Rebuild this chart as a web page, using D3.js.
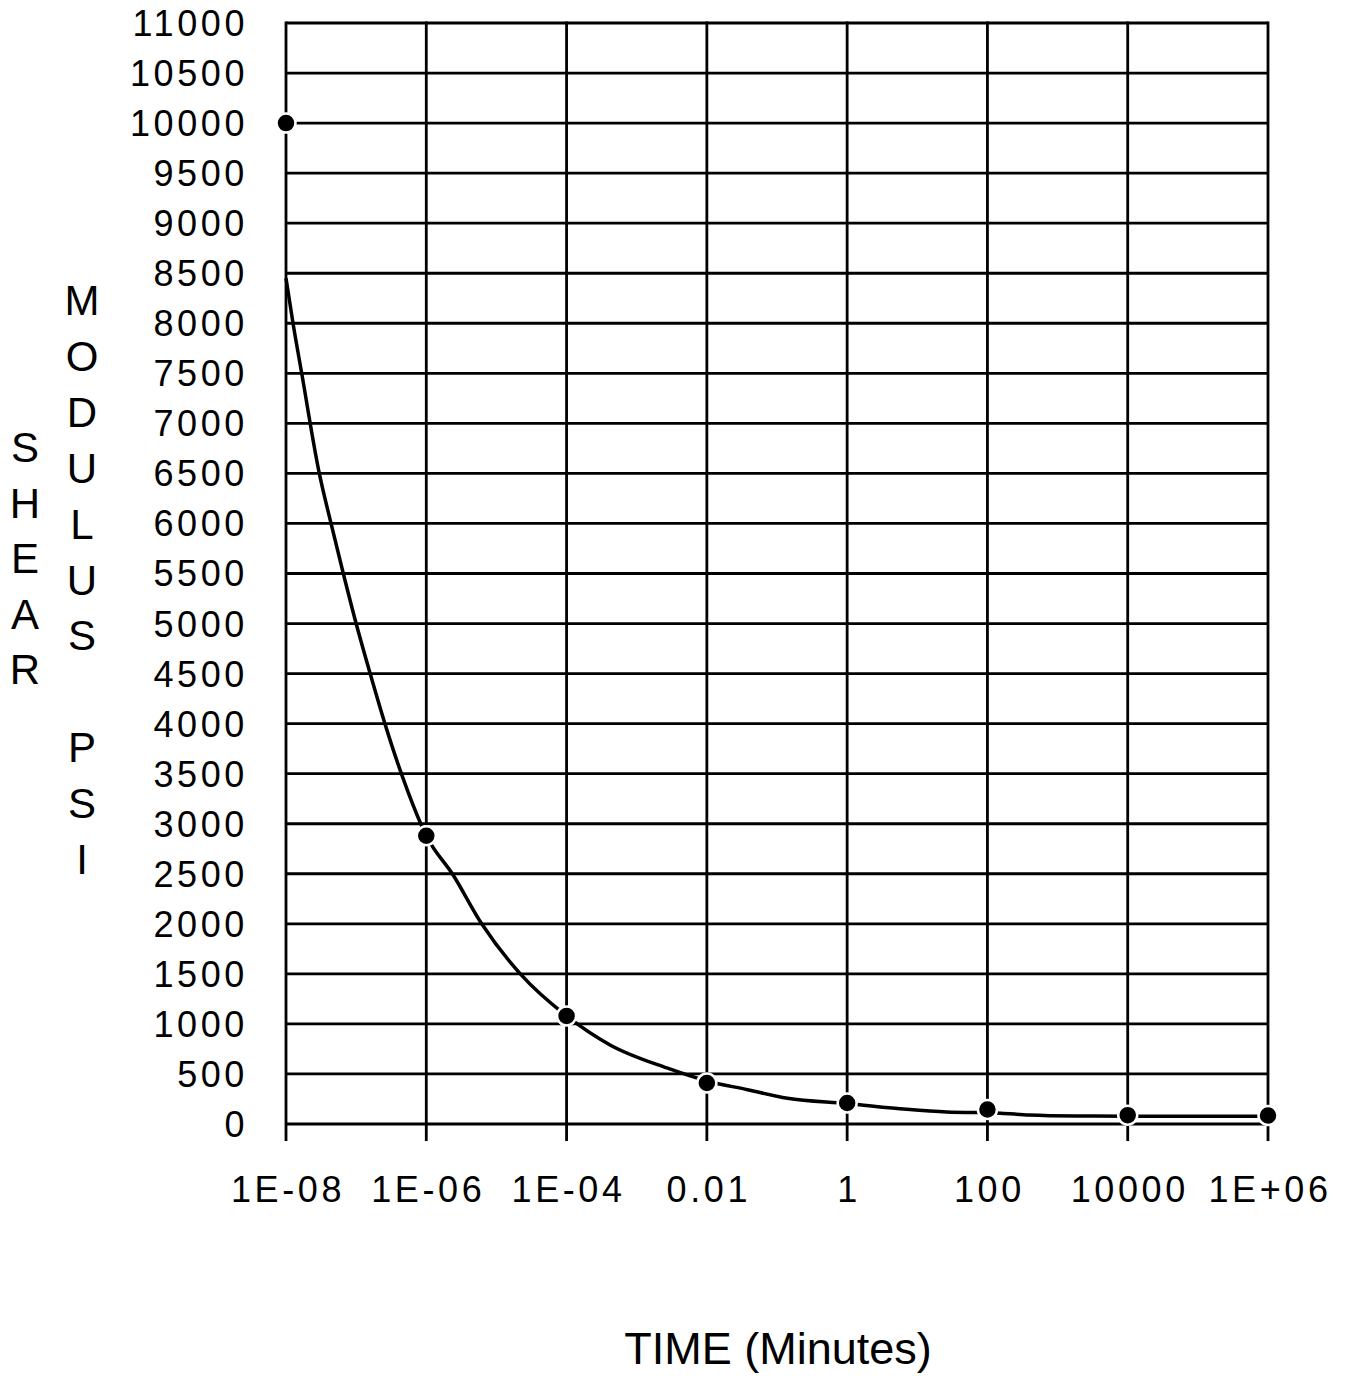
<!DOCTYPE html>
<html><head><meta charset="utf-8">
<script src="https://cdn.jsdelivr.net/npm/d3@7"></script>
<style>body{margin:0;background:#fff}svg{display:block}text{font-family:"Liberation Sans",Arial,sans-serif;fill:#000}</style>
</head><body>
<svg id="c" width="1348" height="1376"></svg>
<script>
// tick values / labels
const xTicks = [1e-8, 1e-6, 1e-4, 0.01, 1, 100, 10000, 1e6];
const xTickLabels = ["1E-08","1E-06","1E-04","0.01","1","100","10000","1E+06"];
const yTicks = [0,500,1000,1500,2000,2500,3000,3500,4000,4500,5000,5500,6000,6500,7000,7500,8000,8500,9000,9500,10000,10500,11000];
// measured data points
const pointTime = [1e-8, 1e-6, 1e-4, 0.01, 1, 100, 10000, 1e6];
const pointModulus = [10000, 2880, 1080, 410, 210, 145, 88, 85];
// fitted curve
const curveTime = [1e-8,1.259e-8,1.675e-8,2.985e-8,4.385e-8,6.56e-8,1e-7,1.585e-7,2.57e-7,4.68e-7,1e-6,2.45e-6,6.17e-6,2.19e-5,1e-4,4.17e-4,2.69e-3,0.01,0.038,0.141,1,7.08,26.3,155,389,1862,1e4,7.94e5,1e6];
const curveModulus = [8450,8000,7500,6500,6000,5500,5000,4500,4000,3450,2880,2480,2000,1500,1080,790,560,430,343,257,205,147,120,108,90,80,78,78,72];

const svg = d3.select("#c");
const x = d3.scaleLog().domain([1e-8, 1e6]).range([286, 1268]);
const y = d3.scaleLinear().domain([0, 11000]).range([1124, 23]);

// horizontal gridlines
svg.append("g").selectAll("line").data(yTicks).join("line")
  .attr("x1", x(1e-8)).attr("x2", x(1e6))
  .attr("y1", d => y(d)).attr("y2", d => y(d))
  .attr("stroke", "#000").attr("stroke-width", 2.8);
// vertical gridlines (extend below as ticks)
svg.append("g").selectAll("line").data(xTicks).join("line")
  .attr("x1", d => x(d)).attr("x2", d => x(d))
  .attr("y1", y(11000) - 1.4).attr("y2", y(0) + 17)
  .attr("stroke", "#000").attr("stroke-width", 2.8);

// y tick labels
svg.append("g").selectAll("text").data(yTicks).join("text")
  .attr("x", 248).attr("y", d => y(d)).attr("dy", "0.36em")
  .attr("text-anchor", "end").attr("font-size", 36).attr("letter-spacing", 3.6)
  .text(d => d);
// x tick labels
svg.append("g").selectAll("text").data(xTicks).join("text")
  .attr("x", d => x(d) + 2).attr("y", 1202)
  .attr("text-anchor", "middle").attr("font-size", 36).attr("letter-spacing", 3.6)
  .text((d, i) => xTickLabels[i]);

// curve
const pts = curveTime.map((t, i) => [t, curveModulus[i]]);
svg.append("path").datum(pts)
  .attr("fill", "none").attr("stroke", "#000").attr("stroke-width", 3.5)
  .attr("d", d3.line().x(d => x(d[0])).y(d => y(d[1])).curve(d3.curveMonotoneX));

// points
svg.append("g").selectAll("circle").data(pointTime).join("circle")
  .attr("cx", d => x(d)).attr("cy", (d, i) => y(pointModulus[i]))
  .attr("r", 9.5).attr("fill", "#000").attr("stroke", "#fff").attr("stroke-width", 2.5);

// axis titles
const shear = "SHEAR".split("");
svg.append("g").selectAll("text").data(shear).join("text")
  .attr("x", 25).attr("y", (d, i) => 462 + i * 55.5)
  .attr("text-anchor", "middle").attr("font-size", 42).text(d => d);
const modulus = ["M","O","D","U","L","U","S","","P","S","I"];
svg.append("g").selectAll("text").data(modulus).join("text")
  .attr("x", 82).attr("y", (d, i) => 315 + i * 55.9)
  .attr("text-anchor", "middle").attr("font-size", 42).text(d => d);

svg.append("text").attr("x", 778).attr("y", 1364)
  .attr("text-anchor", "middle").attr("font-size", 45).text("TIME (Minutes)");
</script>
</body></html>
